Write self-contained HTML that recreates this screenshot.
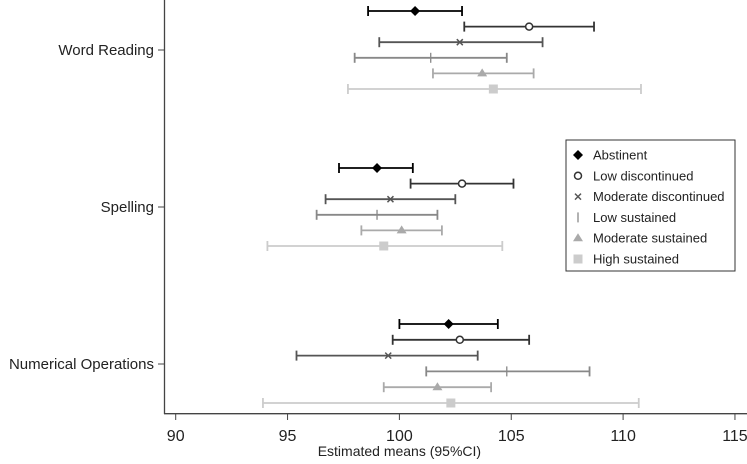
<!DOCTYPE html>
<html><head><meta charset="utf-8"><style>
body{margin:0;background:#fff;}
svg text{font-family:"Liberation Sans",sans-serif;}
</style></head><body>
<svg id="c" width="747" height="459" viewBox="0 0 747 459">
<g id="axes"></g><g id="marks"></g><g id="legend"></g>
</svg>
<script>
const groups = ["Word Reading","Spelling","Numerical Operations"];
const series = ["Abstinent","Low discontinued","Moderate discontinued","Low sustained","Moderate sustained","High sustained"];
const means = [[100.7,105.8,102.7,101.4,103.7,104.2],[99.0,102.8,99.6,99.0,100.1,99.3],[102.2,102.7,99.5,104.8,101.7,102.3]];
const lows = [[98.6,102.9,99.1,98.0,101.5,97.7],[97.3,100.5,96.7,96.3,98.3,94.1],[100.0,99.7,95.4,101.2,99.3,93.9]];
const highs = [[102.8,108.7,106.4,104.8,106.0,110.8],[100.6,105.1,102.5,101.7,101.9,104.6],[104.4,105.8,103.5,108.5,104.1,110.7]];
const xTicks = [90,95,100,105,110,115];
const colors=["#000","#333","#555","#888","#aaa","#ccc"];
const NS="http://www.w3.org/2000/svg";
const x=v=>175.7+(v-90)*22.37;
const groupTop=[11,168,324], rowStep=[15.6,15.6,15.8], groupTick=[50,207,364];
const y=(g,s)=>groupTop[g]+s*rowStep[g];
function mk(t,a,p){const e=document.createElementNS(NS,t);for(const k in a)e.setAttribute(k,a[k]);p.appendChild(e);return e;}
const ax=document.getElementById('axes'),mg=document.getElementById('marks'),lg=document.getElementById('legend');
let e=mk('line',{x1:164.5,y1:0,x2:164.5,y2:414,stroke:'#444','stroke-width':1.3},ax);

e=mk('line',{x1:164,y1:413.7,x2:747,y2:413.7,stroke:'#444','stroke-width':1.3},ax);

xTicks.forEach(t=>{
 mk('line',{x1:x(t),y1:414,x2:x(t),y2:420,stroke:'#444'},ax);
 const tx=mk('text',{x:x(t),y:441,'text-anchor':'middle','font-size':16,fill:'#222'},ax);tx.textContent=t;
 
});
e=mk('text',{x:x(100),y:456,'text-anchor':'middle','font-size':14,fill:'#222'},ax);e.textContent='Estimated means (95%CI)';

groups.forEach((g,i)=>{
 mk('line',{x1:158,y1:groupTick[i],x2:164,y2:groupTick[i],stroke:'#444'},ax);
 const tx=mk('text',{x:154,y:groupTick[i]+5,'text-anchor':'end','font-size':15,fill:'#222'},ax);tx.textContent=g;
 
});
function marker(s,cx,cy,p){
 const c=colors[s];
 if(s===0)mk('path',{d:`M${cx} ${cy-5}L${cx+5} ${cy}L${cx} ${cy+5}L${cx-5} ${cy}Z`,fill:c},p);
 else if(s===1)mk('circle',{cx,cy,r:3.5,fill:'#fff',stroke:c,'stroke-width':1.5},p);
 else if(s===2){mk('path',{d:`M${cx-3} ${cy-3}L${cx+3} ${cy+3}M${cx-3} ${cy+3}L${cx+3} ${cy-3}`,stroke:c,'stroke-width':1.5},p);}
 else if(s===3)mk('line',{x1:cx,y1:cy-5,x2:cx,y2:cy+5,stroke:c,'stroke-width':1.3},p);
 else if(s===4)mk('path',{d:`M${cx} ${cy-5}L${cx+5} ${cy+3}L${cx-5} ${cy+3}Z`,fill:c},p);
 else mk('rect',{x:cx-4.5,y:cy-4.5,width:9,height:9,fill:c},p);
}
groups.forEach((g,gi)=>series.forEach((s,si)=>{
 const gg=mk('g',{},mg);
 
 
 const yy=y(gi,si),c=colors[si];
 mk('line',{x1:x(lows[gi][si]),y1:yy,x2:x(highs[gi][si]),y2:yy,stroke:c,'stroke-width':1.8},gg);
 mk('line',{x1:x(lows[gi][si]),y1:yy-5,x2:x(lows[gi][si]),y2:yy+5,stroke:c,'stroke-width':1.8},gg);
 mk('line',{x1:x(highs[gi][si]),y1:yy-5,x2:x(highs[gi][si]),y2:yy+5,stroke:c,'stroke-width':1.8},gg);
 marker(si,x(means[gi][si]),yy,gg);
}));
e=mk('rect',{x:566,y:140,width:169,height:131,fill:'#fff',stroke:'#333','stroke-width':1},lg);

series.forEach((s,i)=>{
 const gg=mk('g',{},lg);
 
 
 const yy=155+i*20.8;
 marker(i,578,yy,gg);
 const tx=mk('text',{x:593,y:yy+4.5,'font-size':13,fill:'#222'},gg);tx.textContent=s;
});
</script>
</body></html>
